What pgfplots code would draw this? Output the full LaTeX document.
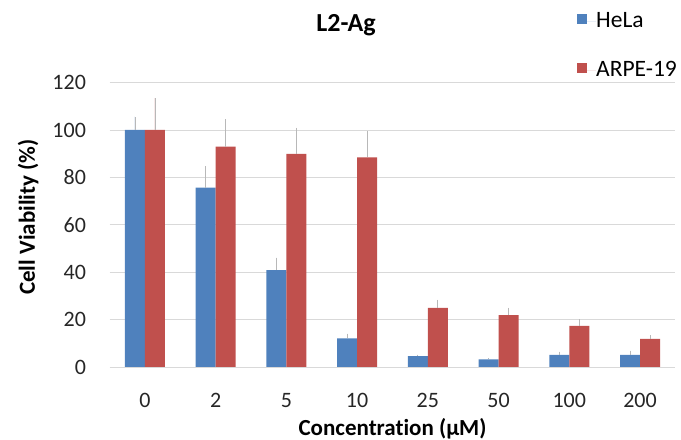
\documentclass[border=0pt]{standalone}
\usepackage{pgfplots}
\pgfplotsset{compat=1.18}
\usepackage{pgfplotstable}
\usepackage{fontspec}
\setmainfont{Carlito}[Ligatures=NoCommon]
\definecolor{cblue}{HTML}{4F81BD}
\definecolor{cred}{HTML}{C0504D}
\definecolor{cgrid}{HTML}{D9D9D9}
\definecolor{cerr}{HTML}{B8B8B8}
\pgfplotstableread{
x hela ehela arpe earpe
0 100  5.6  100  13.4
1 75.7 9.0  93.0 11.5
2 40.9 5.3  89.9 11.0
3 12.1 2.0  88.5 11.0
4 4.6  0.6  24.9 3.4
5 3.2  0.5  21.9 3.0
6 5.1  1.4  17.4 2.7
7 5.1  1.8  11.9 1.6
}\datatable
\begin{document}
\begin{tikzpicture}
\path[use as bounding box] (0bp,0bp) rectangle (681bp,440bp);
\begin{axis}[
  at={(109.6bp,73bp)}, anchor=south west,
  scale only axis, width=565.8bp, height=284.4bp,
  ybar=0pt, bar width=20bp,
  xmin=-0.5, xmax=7.5, ymin=0, ymax=120,
  ytick={0,20,...,120},
  xtick={0,...,7},
  xticklabels={0,2,5,10,25,50,100,200},
  major tick length=0pt,
  axis line style={draw=none},
  ymajorgrids, grid style={draw=cgrid, line width=0.8bp},
  /pgf/number format/assume math mode=true,
  ticklabel style={font=\fontsize{22bp}{26bp}\selectfont, text=black!85},
  yticklabel style={anchor=east, inner sep=0pt, xshift=-23.5bp},
  xticklabel style={anchor=base, inner sep=0pt, yshift=-40bp},
  title={\bfseries L2-Ag},
  title style={at={(axis description cs:0.418,1.157)}, anchor=base, inner sep=0pt, font=\fontsize{26bp}{30bp}\selectfont},
  xlabel={\bfseries Concentration (µM)},
  xlabel style={at={(axis description cs:0.5,-0.240)}, anchor=base, inner sep=0pt, font=\fontsize{23bp}{27bp}\selectfont},
  ylabel={\bfseries Cell Viability (\%)},
  ylabel style={at={(axis description cs:-0.132,0.527)}, anchor=base, inner sep=0pt, font=\fontsize{23bp}{27bp}\selectfont},
  legend style={at={(axis description cs:0.826,1.255)}, anchor=north west, draw=none, fill=none, inner sep=0pt, row sep=27bp,
    font=\fontsize{23.5bp}{28bp}\selectfont,
    nodes={inner sep=0pt, text height=17bp, text depth=5bp}},
  legend cell align=left,
  legend image code/.code={\fill[#1,draw=none] (0bp,-3bp) rectangle (10bp,7bp); \path (0bp,0bp) -- (19bp,0bp);},
  error bars/y dir=plus, error bars/y explicit,
  error bars/error mark=none,
  error bars/error bar style={draw=cerr, line width=0.9bp},
]
\addplot[fill=cblue, draw=none] table[x=x, y=hela, y error=ehela] {\datatable};
\addplot[fill=cred, draw=none] table[x=x, y=arpe, y error=earpe] {\datatable};
\legend{HeLa, ARPE-19}
\end{axis}
\end{tikzpicture}
\end{document}
